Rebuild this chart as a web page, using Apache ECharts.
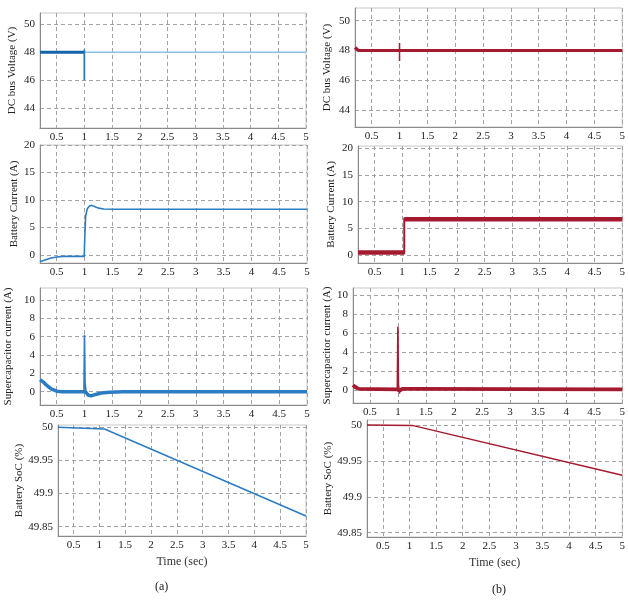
<!DOCTYPE html>
<html><head><meta charset="utf-8">
<script src="https://cdn.jsdelivr.net/npm/echarts@6/dist/echarts.min.js"></script>
<style>html,body{margin:0;padding:0;background:#fff}#c{width:628px;height:602px}</style>
</head><body><div id="c"></div>
<script>
// ---- tick values ----
const xTicks = [0.5, 1, 1.5, 2, 2.5, 3, 3.5, 4, 4.5, 5];
const vTicks = [44, 46, 48, 50];
const iBatTicks = [0, 5, 10, 15, 20];
const iScTicks = [0, 2, 4, 6, 8, 10];
const socTicks = [49.85, 49.9, 49.95, 50];

// ---- (a) left column ----
const a_vdcPre_t = [0.2, 1.0];
const a_vdcPre_v = [48, 48];
const a_vdcSpike_t = [1.0, 1.0, 1.0];
const a_vdcSpike_v = [48.2, 46, 48];
const a_vdcPost_t = [1.0, 5.0];
const a_vdcPost_v = [48, 48];

const a_ibat_t = [0.2, 0.25, 0.3, 0.4, 0.5, 0.6, 0.8, 0.995, 1.0, 1.02, 1.05, 1.09, 1.13, 1.18, 1.25, 1.35, 1.5, 5.0];
const a_ibat_v = [-1.2, -1.1, -0.9, -0.6, -0.4, -0.3, -0.3, -0.3, 1.5, 7.0, 8.4, 8.9, 9.0, 8.8, 8.5, 8.35, 8.3, 8.3];

const a_iscBand_t = [0.2, 0.25, 0.3, 0.4, 0.5, 0.6, 0.99, 1.03, 1.07, 1.12, 1.2, 1.3, 1.45, 1.7, 5.0];
const a_iscBand_v = [1.3, 1.1, 0.8, 0.3, 0.05, 0.0, 0.0, -0.1, -0.4, -0.45, -0.3, -0.15, -0.05, 0.0, 0.0];
const a_iscSpike_t = [0.99, 1.0, 1.01, 1.03, 1.07];
const a_iscSpike_v = [0.0, 6.2, 1.0, -0.1, -0.4];

const a_soc_t = [0.2, 1.1, 5.0];
const a_soc_v = [49.9995, 49.997, 49.866];

// ---- (b) right column ----
const b_vdcBand_t = [0.2, 0.22, 0.26, 5.0];
const b_vdcBand_v = [48.2, 48.1, 48.0, 48.0];
const b_vdcSpike_t = [1.0, 1.0, 1.0];
const b_vdcSpike_v = [48.0, 47.3, 48.5];

const b_ibatLow_t = [0.2, 1.04];
const b_ibatLow_v = [0.5, 0.5];
const b_ibatStep_t = [1.04, 1.04];
const b_ibatStep_v = [0.2, 7.0];
const b_ibatHigh_t = [1.04, 5.0];
const b_ibatHigh_v = [6.7, 6.7];

const b_iscBand_t = [0.2, 0.24, 0.3, 0.99, 1.03, 1.08, 1.2, 5.0];
const b_iscBand_v = [0.5, 0.3, 0.1, 0.05, -0.1, 0.1, 0.1, 0.05];
const b_iscSpike_t = [0.99, 1.0, 1.01, 1.03];
const b_iscSpike_v = [0.05, 6.7, 0.6, -0.4];

const b_soc_t = [0.2, 1.05, 5.0];
const b_soc_v = [50.0, 49.9995, 49.93];

const BLUE = '#2a7dc2', BLUE_D = '#1663a8', BLUE_L = '#8dc0e6', RED = '#a51a2f';
const FONT = 'Liberation Serif';

const pair = (t, v) => t.map((x, i) => [x, v[i]]);

const panels = [
  {grid: {left: 40, top: 13, width: 266, height: 115}, ymin: 42.6, ymax: 50.8, yt: vTicks, name: 'DC bus Voltage (V)', gap: 22,
   s: [{d: pair(a_vdcPost_t, a_vdcPost_v), c: BLUE_L, w: 1.5}, {d: pair(a_vdcPre_t, a_vdcPre_v), c: BLUE_D, w: 3},
       {d: pair(a_vdcSpike_t, a_vdcSpike_v), c: BLUE, w: 1.8}]},
  {grid: {left: 40, top: 145, width: 267, height: 118}, ymin: -1.5, ymax: 20, yt: iBatTicks, name: 'Battery Current (A)', gap: 20,
   s: [{d: pair(a_ibat_t, a_ibat_v), c: BLUE, w: 1.6}]},
  {grid: {left: 40, top: 288, width: 267, height: 117}, ymin: -1.45, ymax: 11.3, yt: iScTicks, name: 'Supercapacitor current (A)', gap: 26,
   s: [{d: pair(a_iscBand_t, a_iscBand_v), c: BLUE, w: 3.5}, {d: pair(a_iscSpike_t, a_iscSpike_v), c: BLUE, w: 1.6}]},
  {grid: {left: 58, top: 425, width: 248, height: 111}, ymin: 49.836, ymax: 50.003, yt: socTicks, name: 'Battery SoC (%)', gap: 33, xname: true,
   s: [{d: pair(a_soc_t, a_soc_v), c: BLUE, w: 1.5}]},

  {grid: {left: 355, top: 8, width: 268, height: 119}, ymin: 42.87, ymax: 50.85, yt: vTicks, name: 'DC bus Voltage (V)', gap: 22,
   s: [{d: pair(b_vdcBand_t, b_vdcBand_v), c: RED, w: 3.2}, {d: pair(b_vdcSpike_t, b_vdcSpike_v), c: RED, w: 1.5}]},
  {grid: {left: 358, top: 146, width: 267, height: 117}, ymin: -1.45, ymax: 20.4, yt: iBatTicks, name: 'Battery Current (A)', gap: 21,
   s: [{d: pair(b_ibatLow_t, b_ibatLow_v), c: RED, w: 4.5}, {d: pair(b_ibatStep_t, b_ibatStep_v), c: RED, w: 2},
       {d: pair(b_ibatHigh_t, b_ibatHigh_v), c: RED, w: 4.5}]},
  {grid: {left: 353, top: 288, width: 273, height: 115}, ymin: -1.4, ymax: 10.8, yt: iScTicks, name: 'Supercapacitor current (A)', gap: 20,
   s: [{d: pair(b_iscBand_t, b_iscBand_v), c: RED, w: 3.8}, {d: pair(b_iscSpike_t, b_iscSpike_v), c: RED, w: 1.6}]},
  {grid: {left: 367, top: 420, width: 259, height: 117}, ymin: 49.844, ymax: 50.007, yt: socTicks, name: 'Battery SoC (%)', gap: 30, xname: true,
   s: [{d: pair(b_soc_t, b_soc_v), c: RED, w: 1.5}]}
];

const grid = [], xAxis = [], yAxis = [], series = [];
const split = {show: true, lineStyle: {color: '#a3a3a3', type: [4, 3], width: 1}};
panels.forEach((p, i) => {
  grid.push(Object.assign({show: true, borderColor: '#c8c8c8', borderWidth: 1, backgroundColor: 'transparent'}, p.grid));
  xAxis.push({
    type: 'value', gridIndex: i, min: 0.2, max: 5,
    axisLine: {show: true, onZero: false, lineStyle: {color: '#8a8a8a'}},
    axisTick: {show: false, customValues: xTicks},
    axisLabel: {customValues: xTicks, color: '#222', fontFamily: FONT, fontSize: 11, margin: 4, formatter: v => String(v)},
    splitLine: split,
    name: p.xname ? 'Time (sec)' : '', nameLocation: 'middle', nameGap: 20,
    nameTextStyle: {color: '#333', fontFamily: FONT, fontSize: 12}
  });
  yAxis.push({
    type: 'value', gridIndex: i, min: p.ymin, max: p.ymax,
    axisLine: {show: true, onZero: false, lineStyle: {color: '#8a8a8a'}},
    axisTick: {show: false, customValues: p.yt},
    axisLabel: {customValues: p.yt, color: '#222', fontFamily: FONT, fontSize: 11, margin: 5, formatter: v => String(v)},
    splitLine: split,
    name: p.name, nameLocation: 'middle', nameGap: p.gap, nameRotate: 90,
    nameTextStyle: {color: '#222', fontFamily: FONT, fontSize: 11}
  });
  p.s.forEach(s => series.push({
    type: 'line', xAxisIndex: i, yAxisIndex: i, data: s.d, showSymbol: false, symbol: 'none',
    lineStyle: {color: s.c, width: s.w}, itemStyle: {color: s.c}, silent: true, animation: false, z: 3
  }));
});

const chart = echarts.init(document.getElementById('c'), null, {renderer: 'canvas'});
chart.setOption({
  backgroundColor: '#fff', animation: false,
  grid, xAxis, yAxis, series,
  graphic: [
    {type: 'text', left: 155, top: 581, style: {text: '(a)', fontFamily: FONT, fontSize: 12, fill: '#222'}},
    {type: 'text', left: 492, top: 584, style: {text: '(b)', fontFamily: FONT, fontSize: 12, fill: '#222'}}
  ]
});
</script></body></html>
